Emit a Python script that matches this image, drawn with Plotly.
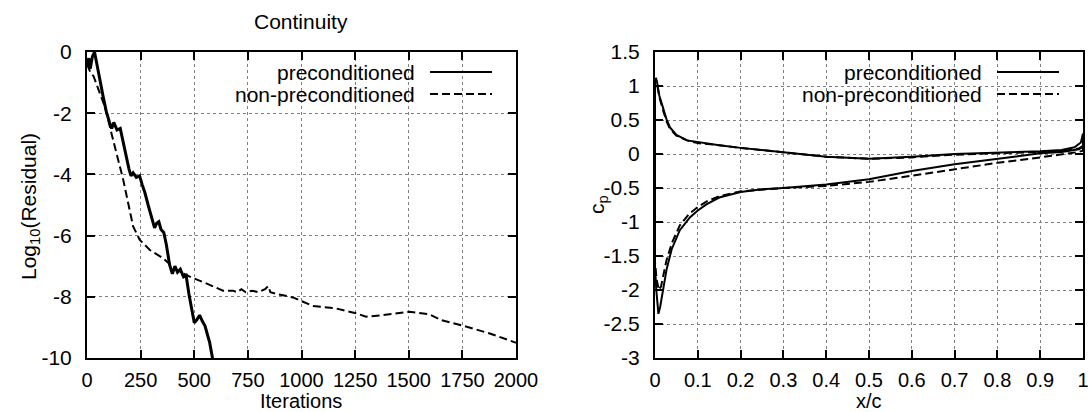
import plotly.graph_objects as go

# ---------------- data: convergence history (left) ----------------
pre_iter = [0, 8, 15, 25, 35, 45, 60, 75, 90, 105, 115, 125, 140, 155, 165, 180, 195, 205, 215,
            230, 245, 258, 270, 285, 300, 315, 325, 335, 345, 358, 370, 385, 398, 410, 422, 435,
            450, 462, 475, 488, 500, 512, 525, 538, 550, 560, 572, 585, 592]
pre_res = [-0.45, -0.2, -0.55, -0.15, 0.0, -0.4, -0.9, -1.45, -1.95, -2.3, -2.5, -2.3, -2.55, -2.5,
           -2.85, -3.3, -3.8, -4.05, -3.95, -4.1, -4.05, -4.35, -4.6, -5.0, -5.35, -5.75, -5.6,
           -5.55, -5.8, -5.9, -6.3, -6.95, -7.25, -7.0, -7.2, -7.1, -7.35, -7.3, -7.9, -8.4, -8.85,
           -8.75, -8.6, -8.8, -8.95, -9.2, -9.5, -10.0, -10.4]

non_iter = [0, 15, 31, 55, 84, 122, 169, 215, 246, 293, 355, 417, 479, 556, 634, 680, 700, 720,
            740, 770, 800, 830, 845, 855, 880, 960, 1003, 1053, 1161, 1254, 1301, 1378, 1502,
            1595, 1650, 1750, 1874, 2000]
non_res = [-0.4, -0.65, -0.8, -1.25, -1.8, -2.88, -4.18, -5.7, -6.14, -6.47, -6.74, -7.12, -7.34,
           -7.56, -7.8, -7.8, -7.85, -7.75, -7.85, -7.8, -7.85, -7.75, -7.65, -7.85, -7.9, -8.02,
           -8.16, -8.3, -8.38, -8.54, -8.65, -8.6, -8.49, -8.57, -8.76, -8.94, -9.19, -9.5]

# ---------------- data: pressure coefficient (right) ----------------
pre_xc = [1.0, 0.995, 0.98, 0.95, 0.9, 0.8, 0.7, 0.6, 0.5, 0.4, 0.3, 0.2, 0.15, 0.1, 0.075, 0.05,
          0.035, 0.027, 0.02, 0.01, 0.005, 0.002, 0.0,
          0.0, 0.003, 0.008, 0.012, 0.019, 0.027, 0.039, 0.058, 0.082, 0.1, 0.12, 0.15, 0.2, 0.25,
          0.3, 0.4, 0.5, 0.6, 0.7, 0.8, 0.9, 0.95, 0.99, 1.0, 1.0]
pre_cp = [0.3, 0.17, 0.1, 0.06, 0.04, 0.025, 0.0, -0.04, -0.07, -0.04, 0.02, 0.09, 0.13, 0.17, 0.2,
          0.28, 0.39, 0.51, 0.65, 0.86, 1.05, 1.12, 1.05,
          -1.65, -2.0, -2.35, -2.25, -2.0, -1.7, -1.4, -1.12, -0.93, -0.83, -0.74, -0.64, -0.56,
          -0.52, -0.5, -0.45, -0.37, -0.25, -0.15, -0.065, 0.01, 0.03, 0.07, 0.1, 0.3]

non_xc = [1.0, 0.99, 0.95, 0.9, 0.8, 0.7, 0.6, 0.5, 0.4, 0.3, 0.2, 0.15, 0.1, 0.075, 0.05, 0.035,
          0.027, 0.02, 0.01, 0.005, 0.002, 0.0,
          0.0, 0.004, 0.009, 0.014, 0.02, 0.027, 0.04, 0.058, 0.08, 0.1, 0.12, 0.15, 0.2, 0.3, 0.4,
          0.5, 0.6, 0.7, 0.8, 0.9, 0.95, 0.99, 1.0, 1.0]
non_cp = [0.12, 0.08, 0.04, 0.03, 0.02, -0.01, -0.05, -0.07, -0.04, 0.02, 0.09, 0.13, 0.16, 0.2,
          0.27, 0.37, 0.48, 0.62, 0.84, 1.02, 1.1, 1.05,
          -1.6, -1.85, -2.0, -1.95, -1.78, -1.56, -1.3, -1.05, -0.88, -0.78, -0.7, -0.62, -0.55,
          -0.5, -0.47, -0.41, -0.32, -0.22, -0.13, -0.05, -0.01, 0.03, 0.05, 0.12]

# ---------------- tick labels ----------------
it_ticks = [0, 250, 500, 750, 1000, 1250, 1500, 1750, 2000]
it_text = ["0", "250", "500", "750", "1000", "1250", "1500", "1750", "2000"]
res_ticks = [0, -2, -4, -6, -8, -10]
res_text = ["0", "-2", "-4", "-6", "-8", "-10"]
xc_ticks = [0, 0.1, 0.2, 0.3, 0.4, 0.5, 0.6, 0.7, 0.8, 0.9, 1.0]
xc_text = ["0", "0.1", "0.2", "0.3", "0.4", "0.5", "0.6", "0.7", "0.8", "0.9", "1"]
cp_ticks = [1.5, 1, 0.5, 0, -0.5, -1, -1.5, -2, -2.5, -3]
cp_text = ["1.5", "1", "0.5", "0", "-0.5", "-1", "-1.5", "-2", "-2.5", "-3"]

series_names = ["preconditioned", "non-preconditioned"]

# ---------------- layout helpers ----------------
W, H = 1090, 412
FONT = "Liberation Sans, Arial, Helvetica, sans-serif"
FS = 21
FT = 20
DASH = "8px,4px"


def px(x):
    return x / W


def py(y):
    return 1 - y / H


L1, R1 = 87, 516
L2, R2 = 655, 1083
T, B = 52, 358

fig = go.Figure()
fig.add_trace(go.Scatter(x=pre_iter, y=pre_res, mode="lines", xaxis="x", yaxis="y",
                         line=dict(color="black", width=3), showlegend=False))
fig.add_trace(go.Scatter(x=non_iter, y=non_res, mode="lines", xaxis="x", yaxis="y",
                         line=dict(color="black", width=2, dash=DASH), showlegend=False))
fig.add_trace(go.Scatter(x=pre_xc, y=pre_cp, mode="lines", xaxis="x2", yaxis="y2",
                         line=dict(color="black", width=2), showlegend=False))
fig.add_trace(go.Scatter(x=non_xc, y=non_cp, mode="lines", xaxis="x2", yaxis="y2",
                         line=dict(color="black", width=2, dash=DASH), showlegend=False))

axis_common = dict(showline=True, linecolor="black", linewidth=2, mirror="ticks",
                   ticks="inside", ticklen=8, tickwidth=1.5, tickcolor="black",
                   showgrid=True, gridcolor="#808080", gridwidth=1, griddash="dot",
                   zeroline=False, automargin=False)
xfont = dict(family=FONT, size=FT, color="black")
yfont = dict(family=FONT, size=FS, color="black")

fig.update_layout(
    width=W, height=H, margin=dict(l=0, r=0, t=0, b=0, pad=0), autosize=False,
    paper_bgcolor="white", plot_bgcolor="white", showlegend=False,
    xaxis=dict(domain=[px(L1), px(R1)], range=[0, 2000], anchor="y", tickmode="array",
               tickvals=it_ticks, ticktext=it_text, ticklabelstandoff=3, tickfont=xfont,
               **axis_common),
    yaxis=dict(domain=[py(B), py(T)], range=[-10, 0], anchor="x", tickmode="array",
               tickvals=res_ticks, ticktext=res_text, ticklabelstandoff=9, tickfont=yfont,
               **axis_common),
    xaxis2=dict(domain=[px(L2), px(R2)], range=[0, 1], anchor="y2", tickmode="array",
                tickvals=xc_ticks, ticktext=xc_text, ticklabelstandoff=3, tickfont=xfont,
                **axis_common),
    yaxis2=dict(domain=[py(B), py(T)], range=[-3, 1.5], anchor="x2", tickmode="array",
                tickvals=cp_ticks, ticktext=cp_text, ticklabelstandoff=9, tickfont=yfont,
                **axis_common),
)

shapes = []
annotations = []
tf = dict(family=FONT, size=FS, color="black")
tfx = dict(family=FONT, size=FT, color="black")

for (left, right) in [(L1, R1), (L2, R2)]:
    # key box (masks grid)
    box_left = 190 if left == L1 else 748
    shapes.append(dict(type="rect", xref="paper", yref="paper",
                       x0=px(box_left), x1=px(right - 1), y0=py(105), y1=py(T + 1),
                       fillcolor="white", line=dict(width=0), layer="between"))
    rows = [72, 94]
    for i, (name, dash, lw) in enumerate(zip(series_names, ["solid", DASH], [2.2, 2])):
        annotations.append(dict(text=name, xref="paper", yref="paper", x=px(right - 99),
                                y=py(rows[i]), xanchor="right", yanchor="middle",
                                showarrow=False, font=tf))
        shapes.append(dict(type="line", xref="paper", yref="paper",
                           x0=px(right - 86), x1=px(right - 24), y0=py(rows[i]), y1=py(rows[i]),
                           line=dict(color="black", width=lw, dash=dash), layer="above"))

annotations += [
    dict(text="Continuity", xref="paper", yref="paper", x=px((L1 + R1) / 2), y=py(22),
         xanchor="center", yanchor="middle", showarrow=False, font=tf),
    dict(text="Iterations", xref="paper", yref="paper", x=px((L1 + R1) / 2), y=py(400.5),
         xanchor="center", yanchor="middle", showarrow=False, font=tfx),
    dict(text="x/c", xref="paper", yref="paper", x=px((L2 + R2) / 2), y=py(400.5),
         xanchor="center", yanchor="middle", showarrow=False, font=tfx),
    dict(text="Log<sub>10</sub>(Residual)", xref="paper", yref="paper", x=px(30), y=py(207),
         xanchor="center", yanchor="middle", textangle=-90, showarrow=False, font=tf),
    dict(text="c<sub>p</sub>", xref="paper", yref="paper", x=px(598), y=py(205),
         xanchor="center", yanchor="middle", textangle=-90, showarrow=False, font=tf),
]

fig.update_layout(shapes=shapes, annotations=annotations)
fig.write_html("out.html", config={"displayModeBar": False},
               post_script="document.body.style.margin='0';document.body.style.padding='0';"
                           "document.body.style.overflow='hidden';")
